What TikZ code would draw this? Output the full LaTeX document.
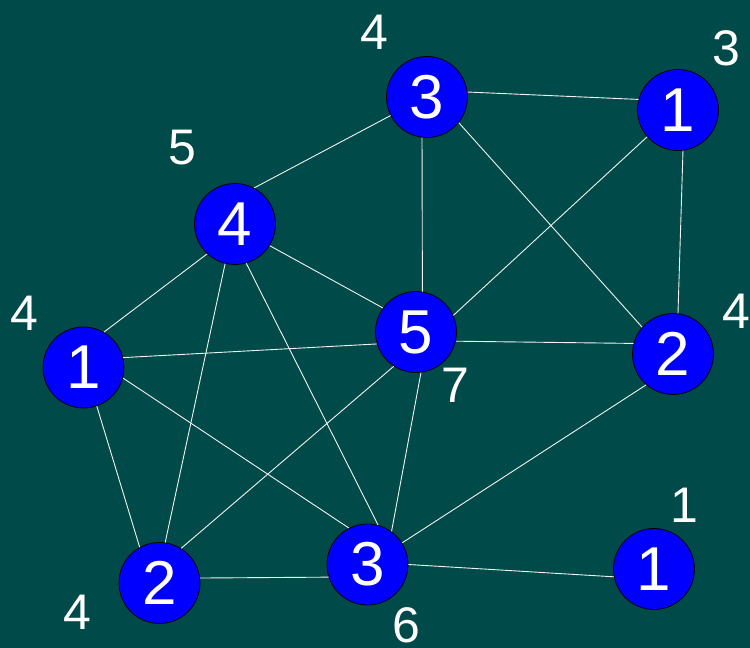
\documentclass[tikz,border=0pt]{standalone}
\usepackage{fontspec}
\setmainfont{Liberation Sans}
\definecolor{bgteal}{HTML}{004B49}
\definecolor{nodeblue}{HTML}{0000FF}
\begin{document}
\begin{tikzpicture}[x=1pt,y=-1pt,
  vert/.style={circle,draw=black,line width=0.8pt,fill=nodeblue,minimum size=81pt,inner sep=0pt,text=white,font=\fontsize{62}{62}\selectfont},
  deg/.style={text=white,font=\fontsize{50}{50}\selectfont,inner sep=0pt},
  edge/.style={draw=white!90!gray,line width=0.9pt}]
\fill[bgteal] (0,0) rectangle (750,648);
\useasboundingbox (0,0) rectangle (750,648);
\node[vert] (A) at (427,97) {3};
\node[vert] (B) at (678,110) {1};
\node[vert] (C) at (235,224) {4};
\node[vert] (D) at (416,332) {5};
\node[vert] (E) at (673,354) {2};
\node[vert] (F) at (83.5,367.5) {1};
\node[vert] (G) at (159.5,583) {2};
\node[vert] (H) at (367.5,564.5) {3};
\node[vert] (I) at (654,569) {1};
\foreach \a/\aa/\b/\bb in {
  A/7/B/165.6, A/207.2/C/62.8, A/263.4/D/81.9, A/-39.8/E/139,
  B/221.6/D/24.1, B/277/E/83, C/-32.3/D/144.8, C/227.7/F/60,
  C/256/G/82.3, C/286.7/H/75.1, D/197.1/F/14.5, D/-13.4/E/165.7,
  D/237.8/G/58.8, D/277/H/54.1, F/289.3/G/119.2, F/345.5/H/117.5,
  G/7.7/H/198.9, H/32.5/E/229.8, H/-0.6/I/191.8}
  \draw[edge] (\a.\aa) -- (\b.\bb);
\node[deg] (dA) at (374,32) {4};
\node[deg] (dB) at (726,48) {3};
\node[deg] (dC) at (182,148) {5};
\node[deg] (dF) at (24,313) {4};
\node[deg] (dE) at (736,311) {4};
\node[deg] (dD) at (455,385) {7};
\node[deg] (dI) at (684,505) {1};
\node[deg] (dG) at (77,612) {4};
\node[deg] (dH) at (406,625) {6};
\end{tikzpicture}
\end{document}
